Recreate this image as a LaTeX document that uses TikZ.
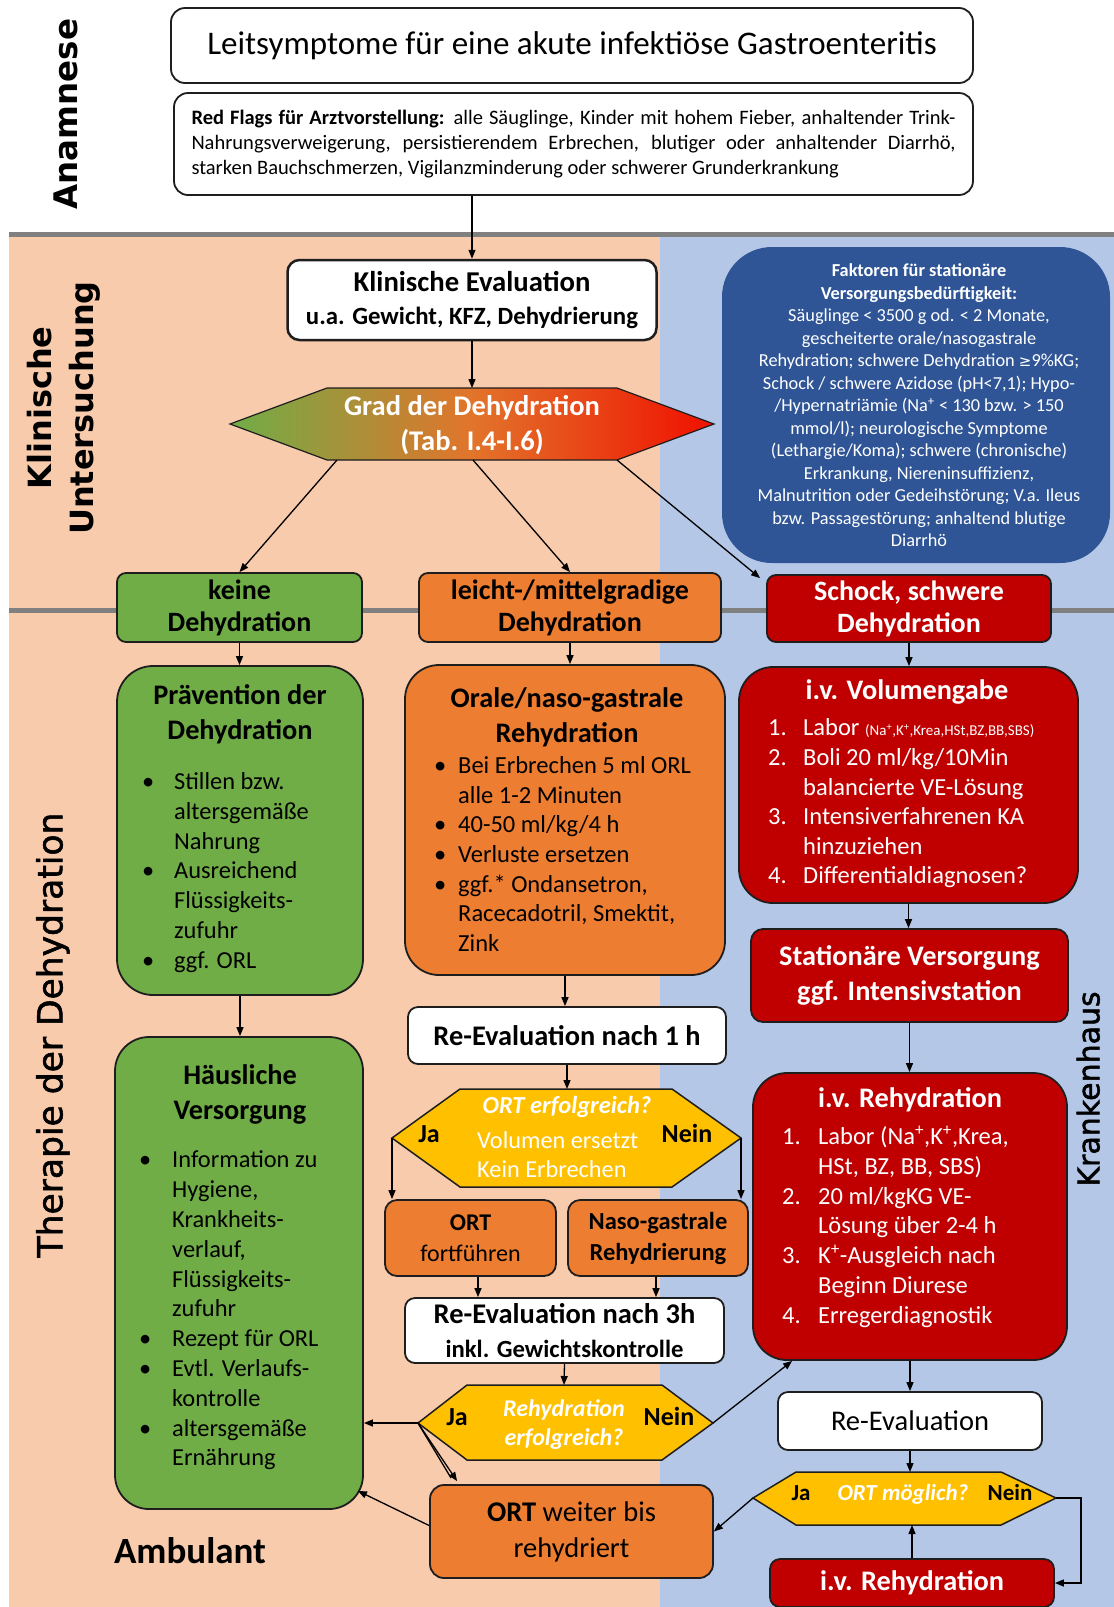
\documentclass[tikz,border=0pt]{standalone}
\usepackage{fontspec}
\setmainfont{Carlito}
\newfontfamily\dvs{DejaVu Sans}
\newfontfamily\dvsm[FakeBold=1.6]{DejaVu Sans}
\usetikzlibrary{arrows.meta,calc}
\definecolor{salmon}{HTML}{F8CBAD}
\definecolor{bluebg}{HTML}{B4C7E7}
\definecolor{grayln}{HTML}{808080}
\definecolor{grn}{HTML}{70AD47}
\definecolor{org}{HTML}{ED7D31}
\definecolor{rd}{HTML}{C00000}
\definecolor{navy}{HTML}{2F5597}
\definecolor{ylw}{HTML}{FFC000}
\definecolor{edge}{HTML}{1E1E1E}
\definecolor{gmid}{HTML}{E2742B}
\definecolor{gred}{HTML}{F01000}
\newcommand\bx[1]{\makebox[#1][l]{\textbullet}}
\newcommand\ix[1]{\hspace*{#1}}
\newcommand\nx[2]{\makebox[#1][l]{#2}}
\newcommand\fs[2]{\fontsize{#1}{#2}\selectfont}
\begin{document}
\begin{tikzpicture}[x=1pt,y=-1pt,
  box/.style={draw=edge, line width=1.8pt, inner sep=0pt, align=center},
  arr/.style={-{Triangle[length=9pt,width=7pt]}, line width=1.3pt, draw=black},
  ln/.style={line width=1.3pt, draw=black},
  hexa/.style={draw=edge, line width=1.5pt, fill=ylw},
  txt/.style={inner sep=0pt}]
\useasboundingbox (0,0) rectangle (1114,1607);
\clip (0,0) rectangle (1114,1607);
% backgrounds
\fill[white] (0,0) rectangle (1114,1607);
\fill[salmon] (9,236) rectangle (660,1607);
\fill[bluebg] (660,236) rectangle (1114,1607);
\draw[grayln, line width=5pt] (9,234) -- (1114,234);
\draw[grayln, line width=5pt] (9,610) -- (1114,610);

% side labels
\node[txt, rotate=90, anchor=mid, font=\dvs\bfseries\fs{32.5}{40}] (anam) at (75,114) {Anamnese};
\node[txt, rotate=90, align=center, font=\dvs\bfseries\fs{32}{42}] (klin) at (64,408) {Klinische\\Untersuchung};
\node[txt, rotate=90, anchor=mid, font=\dvsm\fs{34.5}{40}] (ther) at (60,1035) {Therapie der Dehydration};
\node[txt, rotate=90, anchor=mid, font=\dvsm\fs{30}{36}] (kran) at (1097,1089) {Krankenhaus};
\node[txt, anchor=mid, font=\bfseries\fs{37}{40}] (amb) at (190,1561) {Ambulant};

% top boxes
\node[box, rounded corners=14pt, fill=white, minimum width=802pt, minimum height=75pt, font=\fs{33}{38}] (lead) at (572,45.5) {Leitsymptome für eine akute infektiöse Gastroenteritis};
\node[box, rounded corners=14pt, fill=white, minimum width=799pt, minimum height=102pt, font=\fs{20.5}{25}, align=left] (flags) at (573.5,144) {\makebox[764pt][s]{\textbf{Red Flags für Arztvorstellung:} alle Säuglinge, Kinder mit hohem Fieber, anhaltender Trink-}\\\makebox[764pt][s]{Nahrungsverweigerung, persistierendem Erbrechen, blutiger oder anhaltender Diarrhö,}\\starken Bauchschmerzen, Vigilanzminderung oder schwerer Grunderkrankung};

\node[box, line width=2.5pt, rounded corners=12pt, fill=white, minimum width=369pt, minimum height=80pt, font=\bfseries\fs{24.8}{33}] (kev) at (472,300) {{\fs{28.7}{33}Klinische Evaluation}\\u.a. Gewicht, KFZ, Dehydrierung};

% Grad hexagon
\coordinate (gL) at (230,424);
\coordinate (gTL) at (327,388);
\coordinate (gTR) at (617,388);
\coordinate (gR) at (714,424);
\coordinate (gBR) at (617,460);
\coordinate (gBL) at (327,460);
\coordinate (gT) at (472,388);
\coordinate (g1) at (337,460);
\coordinate (g2) at (473,460);
\path[draw=edge, line width=1.2pt, left color=grn, right color=gred, middle color=gmid] (gL) -- (gTL) -- (gTR) -- (gR) -- (gBR) -- (gBL) -- cycle;
\node[txt, font=\bfseries\fs{28.5}{35}, text=white, align=center] (gradtxt) at (472,425.5) {Grad der Dehydration\\(Tab. I.4-I.6)};

% blue factors box
\node[box, draw=none, fill=navy, rounded corners=50pt, minimum width=388pt, minimum height=316pt] (fakt) at (916,405) {};
\node[txt, text=white, font=\fs{18.3}{22.5}] (fakttxt) at (919,407) {\begin{tabular}{@{}c@{}}\textbf{Faktoren für stationäre}\\\textbf{Versorgungsbedürftigkeit:}\\Säuglinge < 3500 g od. < 2 Monate,\\gescheiterte orale/nasogastrale\\Rehydration; schwere Dehydration {\dvs\fontsize{15}{22.5}\selectfont ≥}9\%KG;\\Schock / schwere Azidose (pH<7,1); Hypo-\\/Hypernatriämie (Na\textsuperscript{+} < 130 bzw. > 150\\mmol/l); neurologische Symptome\\(Lethargie/Koma); schwere (chronische)\\Erkrankung, Niereninsuffizienz,\\Malnutrition oder Gedeihstörung; V.a. Ileus\\bzw. Passagestörung; anhaltend blutige\\Diarrhö\end{tabular}};

% degree boxes
\node[box, rounded corners=9pt, fill=grn, minimum width=245pt, minimum height=69pt, font=\bfseries\fs{28}{32}] (keine) at (239.5,607.5) {keine\\Dehydration};
\node[box, rounded corners=9pt, fill=org, minimum width=302pt, minimum height=69pt, font=\bfseries\fs{28}{32}] (leicht) at (570,607.5) {leicht-/mittelgradige\\Dehydration};
\node[box, rounded corners=9pt, fill=rd, text=white, minimum width=284pt, minimum height=67pt, font=\bfseries\fs{28}{32}] (schock) at (909,608.5) {Schock, schwere\\Dehydration};

% Praevention
\node[box, rounded corners=36pt, fill=grn, minimum width=246pt, minimum height=329pt] (prae) at (240,830.5) {};
\node[txt, font=\bfseries\fs{28.3}{35}] (praet) at (240,714.5) {\begin{tabular}{@{}c@{}}Prävention der\\Dehydration\end{tabular}};
\node[txt, anchor=west, font=\fs{24.4}{29.8}] (prael) at (142,873) {\begin{tabular}{@{}l@{}}\bx{32pt}Stillen bzw.\\\ix{32pt}altersgemäße\\\ix{32pt}Nahrung\\\bx{32pt}Ausreichend\\\ix{32pt}Flüssigkeits-\\\ix{32pt}zufuhr\\\bx{32pt}ggf. ORL\end{tabular}};

% Orale
\node[box, rounded corners=34pt, fill=org, minimum width=320pt, minimum height=310pt] (orale) at (565,820) {};
\node[txt, font=\bfseries\fs{28.3}{35}] (oralet) at (567,717.5) {\begin{tabular}{@{}c@{}}Orale/naso-gastrale\\Rehydration\end{tabular}};
\node[txt, anchor=west, font=\fs{24.5}{29.6}] (oralel) at (434,856.5) {\begin{tabular}{@{}l@{}}\bx{24pt}Bei Erbrechen 5 ml ORL\\\ix{24pt}alle 1-2 Minuten\\\bx{24pt}40-50 ml/kg/4 h\\\bx{24pt}Verluste ersetzen\\\bx{24pt}ggf.* Ondansetron,\\\ix{24pt}Racecadotril, Smektit,\\\ix{24pt}Zink\end{tabular}};

% i.v. Volumengabe
\node[box, rounded corners=34pt, fill=rd, minimum width=339pt, minimum height=236pt] (ivvol) at (908.5,785) {};
\node[txt, anchor=mid, text=white, font=\bfseries\fs{28.3}{35}] (ivvolt) at (907,697) {i.v. Volumengabe};
\node[txt, anchor=west, text=white, font=\fs{24.5}{29.6}] (ivvoll) at (768,804) {\begin{tabular}{@{}l@{}}\nx{35pt}{1.}Labor {\fs{15}{29.6}(Na\textsuperscript{+},K\textsuperscript{+},Krea,HSt,BZ,BB,SBS)}\\\nx{35pt}{2.}Boli 20 ml/kg/10Min\\\ix{35pt}balancierte VE-Lösung\\\nx{35pt}{3.}Intensiverfahrenen KA\\\ix{35pt}hinzuziehen\\\nx{35pt}{4.}Differentialdiagnosen?\end{tabular}};

% Stationaere
\node[box, rounded corners=12pt, fill=rd, text=white, minimum width=317pt, minimum height=93pt, font=\bfseries\fs{28.3}{35}] (stat) at (909.5,975.5) {Stationäre Versorgung\\ggf. Intensivstation};

% i.v. Rehydration
\node[box, rounded corners=34pt, fill=rd, minimum width=314pt, minimum height=287pt] (ivreh) at (910,1216.5) {};
\node[txt, anchor=mid, text=white, font=\bfseries\fs{28.3}{35}] (ivreht) at (910,1105) {i.v. Rehydration};
\node[txt, anchor=west, text=white, font=\fs{24.5}{29.7}] (ivrehl) at (782,1228) {\begin{tabular}{@{}l@{}}\nx{36pt}{1.}Labor (Na\textsuperscript{+},K\textsuperscript{+},Krea,\\\ix{36pt}HSt, BZ, BB, SBS)\\\nx{36pt}{2.}20 ml/kgKG VE-\\\ix{36pt}Lösung über 2-4 h\\\nx{36pt}{3.}K\textsuperscript{+}-Ausgleich nach\\\ix{36pt}Beginn Diurese\\\nx{36pt}{4.}Erregerdiagnostik\end{tabular}};

% Haeusliche Versorgung
\node[box, rounded corners=34pt, fill=grn, minimum width=248pt, minimum height=472pt] (haus) at (239,1273) {};
\node[txt, font=\bfseries\fs{28.3}{35}] (haust) at (240,1095) {\begin{tabular}{@{}c@{}}Häusliche\\Versorgung\end{tabular}};
\node[txt, anchor=west, font=\fs{24.4}{29.8}] (hausl) at (139,1311) {\begin{tabular}{@{}l@{}}\bx{33pt}Information zu\\\ix{33pt}Hygiene,\\\ix{33pt}Krankheits-\\\ix{33pt}verlauf,\\\ix{33pt}Flüssigkeits-\\\ix{33pt}zufuhr\\\bx{33pt}Rezept für ORL\\\bx{33pt}Evtl. Verlaufs-\\\ix{33pt}kontrolle\\\bx{33pt}altersgemäße\\\ix{33pt}Ernährung\end{tabular}};

% Re-Evaluation 1h
\node[box, rounded corners=10pt, fill=white, minimum width=318pt, minimum height=57pt, font=\bfseries\fs{28.4}{34}] (re1) at (567,1035.5) {Re-Evaluation nach 1 h};

% ORT erfolgreich hexagon
\coordinate (oL) at (392,1138);
\coordinate (oTL) at (460,1089);
\coordinate (oTR) at (672,1089);
\coordinate (oR) at (741,1138);
\coordinate (oBR) at (672,1187);
\coordinate (oBL) at (460,1187);
\coordinate (oT) at (567,1089);
\draw[hexa] (oL) -- (oTL) -- (oTR) -- (oR) -- (oBR) -- (oBL) -- cycle;
\node[txt, anchor=mid, text=white, font=\bfseries\itshape\fs{24.5}{29}] (oq) at (567,1111) {ORT erfolgreich?};
\node[txt, anchor=west, text=white, font=\fs{24.3}{29}, align=left] (ov) at (477,1155) {Volumen ersetzt\\Kein Erbrechen};
\node[txt, anchor=mid, font=\bfseries\fs{26}{30}] (oja) at (429,1140) {Ja};
\node[txt, anchor=mid, font=\bfseries\fs{26}{30}] (onein) at (687,1140) {Nein};

% ORT fortfuehren / Naso
\node[box, rounded corners=12pt, fill=org, minimum width=171pt, minimum height=76pt, font=\fs{24}{31}] (ortf) at (470.5,1238) {\textbf{ORT}\\fortführen};
\node[box, rounded corners=12pt, fill=org, minimum width=180pt, minimum height=76pt, font=\bfseries\fs{24.5}{31}] (naso) at (658,1238) {Naso-gastrale\\Rehydrierung};

% Re-Evaluation 3h
\node[box, rounded corners=10pt, fill=white, minimum width=319pt, minimum height=65pt, font=\bfseries\fs{24.7}{34}] (re3) at (564.5,1330.5) {{\fs{28.5}{34}Re-Evaluation nach 3h}\\inkl. Gewichtskontrolle};

% Rehydration erfolgreich hexagon
\coordinate (rL) at (418,1423);
\coordinate (rTL) at (467,1385);
\coordinate (rTR) at (662,1385);
\coordinate (rR) at (713,1423);
\coordinate (rBR) at (662,1460);
\coordinate (rBL) at (467,1460);
\coordinate (rT) at (564,1385);
\draw[hexa] (rL) -- (rTL) -- (rTR) -- (rR) -- (rBR) -- (rBL) -- cycle;
\node[txt, text=white, align=center, font=\bfseries\itshape\fs{24}{29}] (rq) at (564,1424.5) {Rehydration\\erfolgreich?};
\node[txt, anchor=mid, font=\bfseries\fs{26}{30}] (rja) at (457,1423) {Ja};
\node[txt, anchor=mid, font=\bfseries\fs{26}{30}] (rnein) at (669,1423) {Nein};

% ORT weiter bis rehydriert
\node[box, rounded corners=14pt, fill=org, minimum width=283pt, minimum height=93pt, font=\fs{28.5}{36}] (ortw) at (571.5,1531.5) {\textbf{ORT} weiter bis\\rehydriert};

% Re-Evaluation (hospital)
\node[box, rounded corners=10pt, fill=white, minimum width=264pt, minimum height=58pt, font=\fs{28.5}{34}] (reev) at (910,1421) {Re-Evaluation};

% ORT moeglich hexagon
\coordinate (mL) at (753,1498);
\coordinate (mTL) at (796,1472);
\coordinate (mTR) at (1001,1472);
\coordinate (mR) at (1056,1498);
\coordinate (mBR) at (1001,1525);
\coordinate (mBL) at (796,1525);
\coordinate (mT) at (910,1472);
\draw[hexa] (mL) -- (mTL) -- (mTR) -- (mR) -- (mBR) -- (mBL) -- cycle;
\node[txt, anchor=mid, font=\bfseries\fs{23}{28}] (mja) at (801,1498) {Ja};
\node[txt, anchor=mid, text=white, font=\bfseries\itshape\fs{23}{28}] (mq) at (903,1498) {ORT möglich?};
\node[txt, anchor=mid, font=\bfseries\fs{23}{28}] (mnein) at (1010,1498) {Nein};

% bottom i.v. Rehydration
\node[box, rounded corners=10pt, fill=rd, text=white, minimum width=284pt, minimum height=48pt, font=\bfseries\fs{28.3}{34}] (ivb) at (912,1583) {i.v. Rehydration};

% connectors
\draw[arr] (kev.north |- flags.south) -- (kev.north);
\draw[arr] (kev.south) -- (gT);
\draw[arr] (g1) -- (keine.north);
\draw[arr] (g2) -- (leicht.north);
\draw[arr] (gBR) -- ($(schock.north west)+(-6,4)$);
\draw[arr] (keine.south) -- (keine.south |- prae.north);
\draw[arr] (leicht.south) -- (leicht.south |- orale.north);
\draw[arr] (schock.south) -- (schock.south |- ivvol.north);
\draw[arr] (prae.south) -- (prae.south |- haus.north);
\draw[arr] (orale.south) -- (orale.south |- re1.north);
\draw[arr] (re1.south) -- (oT);
\draw[arr] (oL) -- (oL |- ortf.north);
\draw[arr] (oR) -- (oR |- naso.north);
\draw[arr] ($(ortf.south)+(7.5,0)$) -- ($(ortf.south |- re3.north)+(7.5,0)$);
\draw[arr] ($(naso.south)+(-2,0)$) -- ($(naso.south |- re3.north)+(-2,0)$);
\draw[arr] (re3.south) -- (rT);
\draw[arr] (rL) -- (rL -| haus.east);
\draw[ln] (rL) -- ($(ortw.north west)+(22,-6)$);
\draw[arr] (rL) -- ($(ortw.north west)+(28,-3)$);
\draw[arr] (rR) -- ($(ivreh.south west)+(40,0)$);
\draw[arr] ($(ortw.west)+(0,-6)$) -- ($(haus.south east)+(-6,-19)$);
\draw[arr] (ivvol.south) -- (ivvol.south |- stat.north);
\draw[arr] (stat.south) -- (stat.south |- ivreh.north);
\draw[arr] (ivreh.south) -- (ivreh.south |- reev.north);
\draw[arr] (reev.south) -- (mT);
\draw[arr] (mL) -- (ortw.east);
\draw[arr] (mR) -- ++(25,0) |- (ivb.east);
\draw[arr] (ivb.north) -- (ivb.north |- mBR);
\end{tikzpicture}
\end{document}
